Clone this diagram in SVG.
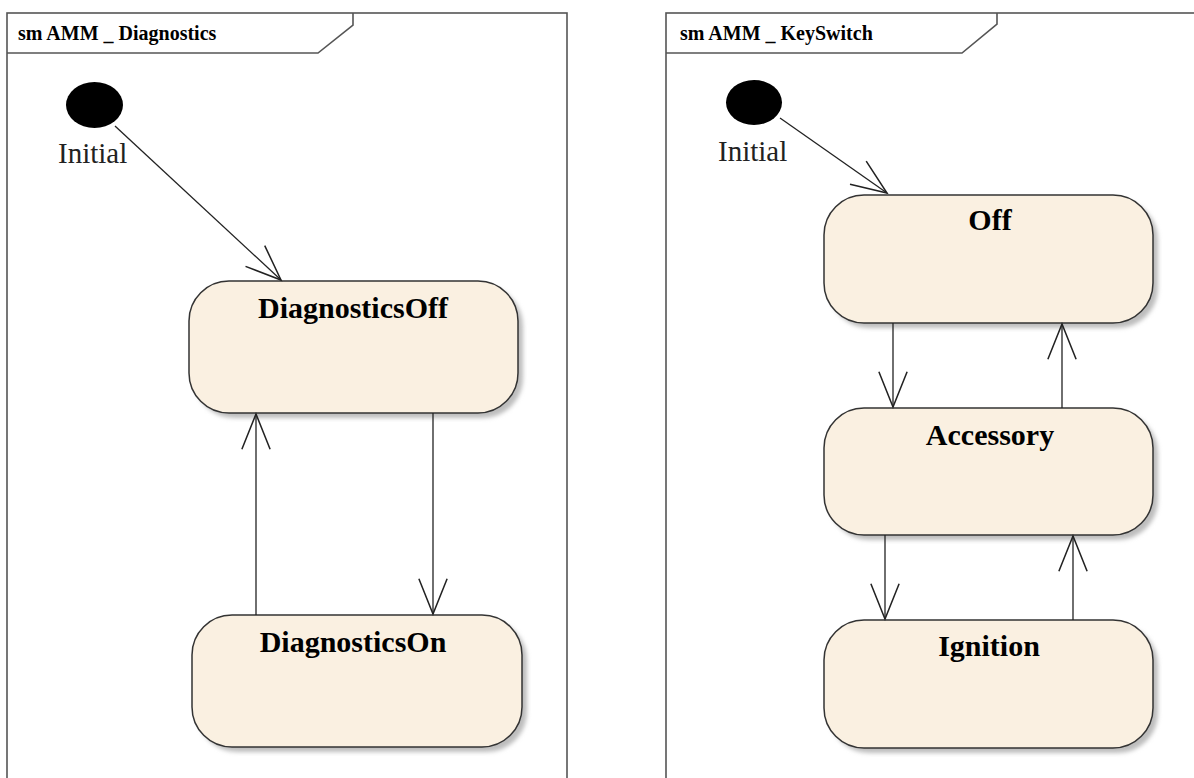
<svg xmlns="http://www.w3.org/2000/svg" width="1194" height="778" viewBox="0 0 1194 778">
<style>
.frame{fill:none;stroke:#555;stroke-width:1.6}
.ftitle{font-family:"Liberation Serif",serif;font-weight:bold;font-size:20px;fill:#000}
.state{fill:#FAF0E1;stroke:#333;stroke-width:1.5}
.shadow{fill:#bdbdbd;filter:url(#blur)}
.sname{font-family:"Liberation Serif",serif;font-weight:bold;font-size:30px;fill:#000;text-anchor:middle}
.init{fill:#000}
.ilabel{font-family:"Liberation Serif",serif;font-size:29px;fill:#222}
.edge{fill:none;stroke:#222;stroke-width:1.3;marker-end:url(#vee)}
</style>
<defs>
<filter id="blur" x="-10%" y="-10%" width="120%" height="120%"><feGaussianBlur stdDeviation="2"/></filter>
<marker id="vee" markerUnits="userSpaceOnUse" markerWidth="40" markerHeight="40" viewBox="-32 -16 34 32" refX="0" refY="0" orient="auto">
<path d="M -30 -12 L 0 0 L -30 12" fill="none" stroke="#222" stroke-width="1.3"/>
</marker>
</defs>
<rect width="1194" height="778" fill="#fff"/>

<g id="frame-diagnostics">
<rect class="frame" x="7" y="13" width="560" height="800"/>
<path class="frame" d="M 7 53 L 318 53 L 353 25 L 353 13"/>
<text class="ftitle" x="18" y="40">sm AMM _ Diagnostics</text>
</g>
<g id="frame-keyswitch">
<rect class="frame" x="666" y="13" width="560" height="800"/>
<path class="frame" d="M 666 53 L 962 53 L 997 24 L 997 13"/>
<text class="ftitle" x="680" y="40">sm AMM _ KeySwitch</text>
</g>

<g id="initial-diag">
<ellipse class="init" cx="94.5" cy="105" rx="28.5" ry="23"/>
<text class="ilabel" x="58" y="163">Initial</text>
</g>
<g id="DiagnosticsOff">
<rect class="shadow" x="194" y="286" width="329" height="132" rx="40" ry="40"/>
<rect class="state" x="189" y="281" width="329" height="132" rx="40" ry="40"/>
<text class="sname" x="353" y="318">DiagnosticsOff</text>
</g>
<g id="DiagnosticsOn">
<rect class="shadow" x="197" y="620" width="330" height="132" rx="40" ry="40"/>
<rect class="state" x="192" y="615" width="330" height="132" rx="40" ry="40"/>
<text class="sname" x="353" y="652">DiagnosticsOn</text>
</g>

<g id="initial-key">
<ellipse class="init" cx="754" cy="102.5" rx="28" ry="22.5"/>
<text class="ilabel" x="718" y="161">Initial</text>
</g>
<g id="Off">
<rect class="shadow" x="829" y="200" width="329" height="128" rx="40" ry="40"/>
<rect class="state" x="824" y="195" width="329" height="128" rx="40" ry="40"/>
<text class="sname" x="990" y="230">Off</text>
</g>
<g id="Accessory">
<rect class="shadow" x="829" y="413" width="329" height="127" rx="40" ry="40"/>
<rect class="state" x="824" y="408" width="329" height="127" rx="40" ry="40"/>
<text class="sname" x="990" y="445">Accessory</text>
</g>
<g id="Ignition">
<rect class="shadow" x="829" y="625" width="329" height="128" rx="40" ry="40"/>
<rect class="state" x="824" y="620" width="329" height="128" rx="40" ry="40"/>
<text class="sname" x="989" y="656">Ignition</text>
</g>

<g id="connectors">
<line class="edge" x1="115" y1="126" x2="281" y2="280"/>
<line class="edge" x1="256" y1="615" x2="256" y2="414"/>
<line class="edge" x1="433" y1="413" x2="433" y2="614"/>
<line class="edge" x1="780" y1="118" x2="887" y2="193"/>
<line class="edge" x1="893" y1="323" x2="893" y2="407"/>
<line class="edge" x1="1062" y1="408" x2="1062" y2="324"/>
<line class="edge" x1="885" y1="535" x2="885" y2="619"/>
<line class="edge" x1="1073" y1="620" x2="1073" y2="536"/>
</g>
</svg>
